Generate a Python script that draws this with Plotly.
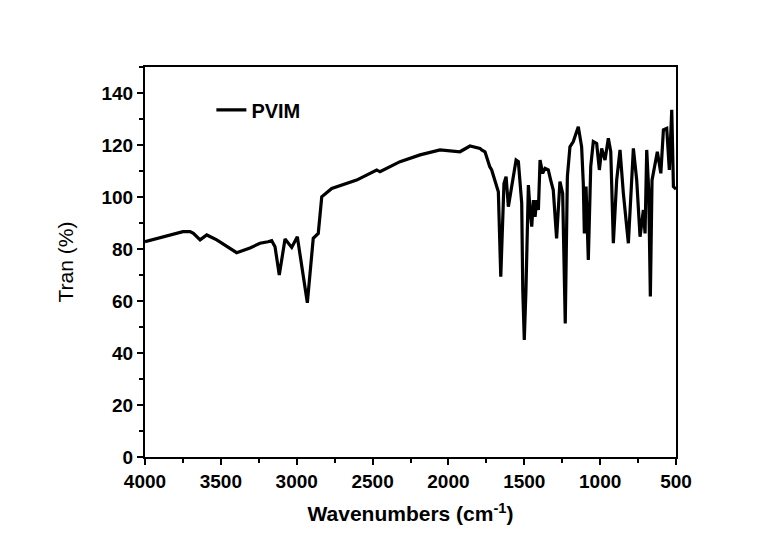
import plotly.graph_objects as go

wavenumber = [4000, 3750, 3703, 3681, 3637, 3593, 3527, 3396, 3308, 3242, 3189, 3165, 3143, 3115,
              3077, 3033, 2996, 2930, 2891, 2858, 2835, 2769, 2605, 2473, 2451, 2319, 2187, 2055,
              1924, 1858, 1792, 1781, 1759, 1728, 1715, 1671, 1655, 1634, 1620, 1605, 1583, 1554,
              1539, 1517, 1510, 1500, 1489, 1473, 1462, 1451, 1440, 1429, 1418, 1407, 1396, 1379,
              1363, 1342, 1326, 1309, 1287, 1265, 1247, 1230, 1216, 1199, 1177, 1144, 1122, 1111,
              1104, 1093, 1078, 1062, 1045, 1023, 1005, 990, 968, 946, 930, 913, 891, 869, 847,
              814, 781, 759, 737, 715, 704, 693, 680, 669, 658, 638, 623, 600, 583, 561, 544,
              528, 517, 500]
transmittance = [82.8, 86.7, 86.7, 86.0, 83.5, 85.4, 83.5, 78.6, 80.4, 82.2, 82.8, 83.2, 80.9, 70.0,
                 83.8, 80.6, 84.7, 59.3, 84.1, 86.0, 100.1, 103.3, 106.5, 110.4, 109.7, 113.6, 116.2, 118.1,
                 117.4, 119.6, 118.7, 118.1, 117.4, 111.7, 110.4, 102.0, 69.3, 105.2, 107.8, 96.3, 104.0, 114.2,
                 113.6, 97.6, 64.2, 45.0, 64.2, 104.6, 95.0, 88.6, 98.8, 92.4, 98.8, 95.0, 114.2, 109.1,
                 111.0, 110.4, 106.5, 102.7, 84.1, 105.9, 101.4, 51.4, 107.8, 119.3, 121.3, 127.0, 119.3, 105.2,
                 86.0, 104.0, 75.8, 111.7, 121.3, 120.6, 110.4, 118.7, 114.2, 122.6, 117.4, 82.2, 106.5, 118.1, 101.4,
                 82.2, 118.7, 106.5, 84.7, 95.0, 86.0, 118.1, 102.7, 61.7, 106.5, 113.6, 117.4, 109.1, 125.8, 126.4, 110.4,
                 133.5, 104.0, 103.0]

x_ticks = [4000, 3500, 3000, 2500, 2000, 1500, 1000, 500]
y_ticks = [0, 20, 40, 60, 80, 100, 120, 140]

font_family = "Liberation Sans, Arial, sans-serif"

fig = go.Figure()
fig.add_trace(go.Scatter(x=wavenumber, y=transmittance, mode="lines", name="PVIM",
                         line=dict(color="black", width=3.2)))

axis_common = dict(showline=True, linecolor="black", linewidth=2, mirror=True,
                   ticks="outside", ticklen=6, tickwidth=2, tickcolor="black",
                   showgrid=False, zeroline=False,
                   tickfont=dict(family=font_family, size=19, color="black", weight="bold"))

fig.update_xaxes(range=[4000, 500], tickvals=x_ticks,
                 minor=dict(dtick=250, ticks="outside", ticklen=4, tickwidth=2, tickcolor="black"),
                 title=dict(text="Wavenumbers (cm<sup>-1</sup>)",
                            font=dict(family=font_family, size=21, color="black", weight="bold"),
                            standoff=16),
                 **axis_common)
fig.update_yaxes(range=[0, 150], tickvals=y_ticks,
                 minor=dict(dtick=10, ticks="outside", ticklen=4, tickwidth=2, tickcolor="black"),
                 title=dict(text="Tran (%)", font=dict(family=font_family, size=21, color="black"),
                            standoff=22),
                 **axis_common)

fig.update_layout(width=769, height=540, margin=dict(l=145, r=93, t=67, b=83),
                  plot_bgcolor="white", paper_bgcolor="white",
                  showlegend=True,
                  legend=dict(x=0.125, y=0.89, xanchor="left", yanchor="middle",
                              bgcolor="rgba(0,0,0,0)",
                              font=dict(family=font_family, size=20, color="black", weight="bold")))

fig.write_html("out.html")
